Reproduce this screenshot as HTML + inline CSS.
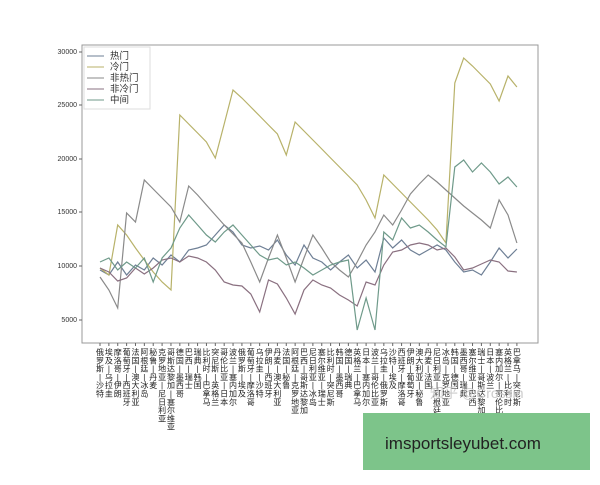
<!DOCTYPE html>
<html><head><meta charset="utf-8"><style>
body{margin:0;background:#fff;width:600px;height:480px;overflow:hidden;font-family:"Liberation Sans","Noto Sans CJK SC",sans-serif}
</style></head><body>
<svg width="600" height="480" xmlns="http://www.w3.org/2000/svg" font-family="Liberation Sans, Noto Sans CJK SC, sans-serif">
<rect x="82" y="45" width="456" height="298" fill="#fff" stroke="#999" stroke-width="1"/>
<g font-size="7" fill="#333" text-anchor="end">
<text x="77" y="54">30000</text><text x="77" y="107">25000</text><text x="77" y="161">20000</text><text x="77" y="214">15000</text><text x="77" y="268">10000</text><text x="77" y="322">5000</text>
</g>
<g stroke="#666" stroke-width="1"><line x1="79" y1="52" x2="82" y2="52"/><line x1="79" y1="105" x2="82" y2="105"/><line x1="79" y1="159" x2="82" y2="159"/><line x1="79" y1="212" x2="82" y2="212"/><line x1="79" y1="266" x2="82" y2="266"/><line x1="79" y1="320" x2="82" y2="320"/></g>
<g id="lines" fill="none" stroke-width="1.2"></g>
<g id="xt"></g>
<g font-size="9.5" fill="#333">
<rect x="84" y="47" width="66" height="62" fill="#fff" stroke="#ddd"/>
<line x1="87" y1="56" x2="104" y2="56" stroke="#6e7f95"/><text x="110" y="59">热门</text>
<line x1="87" y1="67" x2="104" y2="67" stroke="#b8b26a"/><text x="110" y="70">冷门</text>
<line x1="87" y1="78" x2="104" y2="78" stroke="#8a8a8a"/><text x="110" y="81">非热门</text>
<line x1="87" y1="89" x2="104" y2="89" stroke="#8a7080"/><text x="110" y="92">非冷门</text>
<line x1="87" y1="100" x2="104" y2="100" stroke="#6f9a8a"/><text x="110" y="103">中间</text>
</g>
<text x="430" y="398" font-size="14" fill="#ccc">知乎 @Crossin</text>
<rect x="363" y="413" width="227" height="57" fill="#7dc48a"/>
<text x="385" y="449" font-size="17" fill="#222">imsportsleyubet.com</text>
</svg>
<script>
var S={"#6e7f95":[270,275,262,275,265,270,258,265,255,262,250,248,245,235,225,232,245,248,246,250,240,255,265,245,258,262,270,262,255,268,260,272,238,248,240,250,255,250,245,250,262,272,270,275,262,248,258,249],
"#b8b26a":[268,275,225,235,248,260,272,282,290,115,124,133,142,158,124,90,98,107,116,125,134,155,122,131,140,149,158,167,176,185,200,218,175,184,193,202,211,220,230,243,83,58,66,75,84,101,76,87],
"#8a8a8a":[277,290,308,213,222,180,189,198,207,222,186,195,205,215,225,234,243,262,282,258,235,258,282,258,235,248,262,270,277,262,245,232,215,225,210,194,184,175,182,190,198,206,213,220,228,200,215,243],
"#8a7080":[268,272,281,278,268,274,268,260,258,262,256,258,262,270,282,285,286,294,312,280,284,298,314,290,280,285,288,295,300,306,282,285,265,252,250,245,243,245,250,248,257,270,268,264,260,262,271,272],
"#6f9a8a":[262,258,270,262,268,258,282,258,248,228,215,225,235,242,232,225,235,245,255,260,258,265,262,268,275,270,265,262,260,330,298,330,232,240,218,228,225,232,240,247,167,160,172,163,172,184,177,187]};
var ns="http://www.w3.org/2000/svg",g=document.getElementById("lines");
for(var c in S){var p=S[c].map(function(y,i){return (100+i*8.87).toFixed(1)+","+y}).join(" ");var e=document.createElementNS(ns,"polyline");e.setAttribute("points",p);e.setAttribute("stroke",c);g.appendChild(e);}
var L=["俄罗斯|沙特","埃及|乌拉圭","摩洛哥|伊朗","葡萄牙|西班牙","法国|澳大利亚","阿根廷|冰岛","秘鲁|丹麦","克罗地亚|尼日利亚","哥斯达黎加|塞尔维亚","德国|墨西哥","巴西|瑞士","瑞典|韩国","比利时|巴拿马","突尼斯|英格兰","哥伦比亚|日本","波兰|塞内加尔","俄罗斯|埃及","葡萄牙|摩洛哥","乌拉圭|沙特","伊朗|西班牙","丹麦|澳大利亚","法国|秘鲁","阿根廷|克罗地亚","巴西|哥斯达黎加","尼日利亚|冰岛","塞尔维亚|瑞士","比利时|突尼斯","韩国|墨西哥","德国|瑞典","英格兰|巴拿马","日本|塞内加尔","波兰|哥伦比亚","乌拉圭|俄罗斯","沙特|埃及","西班牙|摩洛哥","伊朗|葡萄牙","澳大利亚|秘鲁","丹麦|法国","尼日利亚|阿根廷","冰岛|克罗地亚","韩国|德国","墨西哥|瑞典","塞尔维亚|巴西","瑞士|哥斯达黎加","日本|波兰","塞内加尔|哥伦比亚","英格兰|比利时","巴拿马|突尼斯"];
var xt=document.getElementById("xt");
L.forEach(function(s,i){var x=100+i*8.87;var l=document.createElementNS(ns,"line");l.setAttribute("x1",x);l.setAttribute("x2",x);l.setAttribute("y1",343);l.setAttribute("y2",346);l.setAttribute("stroke","#666");xt.appendChild(l);
var t=document.createElementNS(ns,"text");t.setAttribute("font-size","8");t.setAttribute("fill","#222");t.setAttribute("text-anchor","middle");
s.split("").forEach(function(ch,k){var sp=document.createElementNS(ns,"tspan");sp.setAttribute("x",x);sp.setAttribute("y",355+k*8.3);sp.textContent=ch;t.appendChild(sp);});
xt.appendChild(t);});
</script>
</body></html>
